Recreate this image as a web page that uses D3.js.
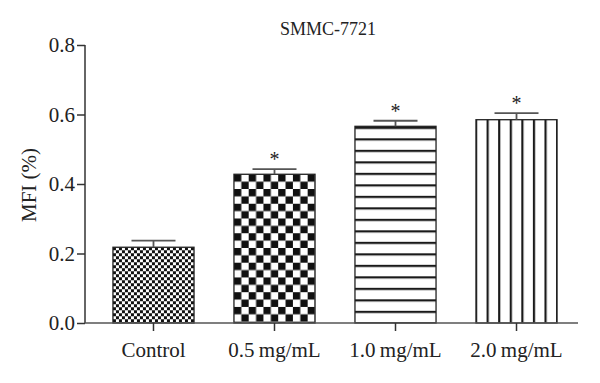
<!DOCTYPE html>
<html>
<head>
<meta charset="utf-8">
<script src="https://cdn.jsdelivr.net/npm/d3@7"></script>
<style>
  html, body { margin: 0; padding: 0; background: #fff; }
  svg { display: block; }
  text { font-family: "Liberation Serif", "DejaVu Serif", serif; fill: #222; }
</style>
</head>
<body>
<script>
const title = "SMMC-7721";
const yLabel = "MFI (%)";
const categories = ["Control", "0.5\u2009mg/mL", "1.0\u2009mg/mL", "2.0\u2009mg/mL"];
const values = [0.218, 0.428, 0.566, 0.585];
const errors = [0.019, 0.015, 0.016, 0.019];
const significant = [false, true, true, true];
const yTicks = [0.0, 0.2, 0.4, 0.6, 0.8];
const patterns = ["fineCheck", "coarseCheck", "hLines", "vLines"];

const W = 600, H = 383;
const svg = d3.select("body").append("svg").attr("width", W).attr("height", H);

const x = d3.scaleBand().domain(categories).range([85, 585]).paddingInner(0.33).paddingOuter(0.231);
const y = d3.scaleLinear().domain([0, 0.8]).range([323, 45]);
const bw = x.bandwidth();

// patterns
const defs = svg.append("defs");
const fc = defs.append("pattern").attr("id", "fineCheck").attr("patternUnits", "userSpaceOnUse")
  .attr("width", 6).attr("height", 6).attr("x", x(categories[0])).attr("y", y(values[0]));
fc.append("rect").attr("width", 6).attr("height", 6).attr("fill", "#fff");
fc.append("rect").attr("width", 3).attr("height", 3).attr("fill", "#111");
fc.append("rect").attr("x", 3).attr("y", 3).attr("width", 3).attr("height", 3).attr("fill", "#111");

const cs = bw / 11;
const cc = defs.append("pattern").attr("id", "coarseCheck").attr("patternUnits", "userSpaceOnUse")
  .attr("width", cs * 2).attr("height", cs * 2).attr("x", x(categories[1])).attr("y", y(values[1]));
cc.append("rect").attr("width", cs * 2).attr("height", cs * 2).attr("fill", "#fff");
cc.append("rect").attr("width", cs).attr("height", cs).attr("fill", "#111");
cc.append("rect").attr("x", cs).attr("y", cs).attr("width", cs).attr("height", cs).attr("fill", "#111");

const hs = 11.5;
const hl = defs.append("pattern").attr("id", "hLines").attr("patternUnits", "userSpaceOnUse")
  .attr("width", 10).attr("height", hs).attr("x", 0).attr("y", y(values[2]) + 0.5);
hl.append("rect").attr("width", 10).attr("height", hs).attr("fill", "#fff");
hl.append("rect").attr("y", 0).attr("width", 10).attr("height", 2.2).attr("fill", "#1a1a1a");

const vs = bw / 7;
const vl = defs.append("pattern").attr("id", "vLines").attr("patternUnits", "userSpaceOnUse")
  .attr("width", vs).attr("height", 10).attr("x", x(categories[3]) - 1).attr("y", 0);
vl.append("rect").attr("width", vs).attr("height", 10).attr("fill", "#fff");
vl.append("rect").attr("x", 0).attr("width", 2.2).attr("height", 10).attr("fill", "#1a1a1a");

// title
svg.append("text").attr("x", 328).attr("y", 35).attr("text-anchor", "middle")
  .attr("font-size", 18).text(title);

// y-axis title
svg.append("text").attr("transform", "translate(36,185) rotate(-90)")
  .attr("text-anchor", "middle").attr("font-size", 21).text(yLabel);

// bars
const g = svg.append("g");
g.selectAll("rect.bar").data(values).join("rect").attr("class", "bar")
  .attr("x", (d, i) => x(categories[i]))
  .attr("y", d => y(d))
  .attr("width", bw)
  .attr("height", d => y(0) - y(d))
  .attr("fill", (d, i) => `url(#${patterns[i]})`)
  .attr("stroke", "#222").attr("stroke-width", 1.3);

// error bars
const capW = 44;
g.selectAll("line.err").data(values).join("line").attr("class", "err")
  .attr("x1", (d, i) => x(categories[i]) + bw / 2)
  .attr("x2", (d, i) => x(categories[i]) + bw / 2)
  .attr("y1", d => y(d))
  .attr("y2", (d, i) => y(d + errors[i]))
  .attr("stroke", "#555").attr("stroke-width", 1.8);
g.selectAll("line.cap").data(values).join("line").attr("class", "cap")
  .attr("x1", (d, i) => x(categories[i]) + bw / 2 - capW / 2)
  .attr("x2", (d, i) => x(categories[i]) + bw / 2 + capW / 2)
  .attr("y1", (d, i) => y(d + errors[i]))
  .attr("y2", (d, i) => y(d + errors[i]))
  .attr("stroke", "#555").attr("stroke-width", 1.8);

// significance stars
g.selectAll("text.star").data(values.map((v, i) => ({ v, i })).filter(d => significant[d.i]))
  .join("text").attr("class", "star")
  .attr("x", d => x(categories[d.i]) + bw / 2)
  .attr("y", d => y(d.v + errors[d.i]) - 3)
  .attr("text-anchor", "middle").attr("font-size", 20).text("*");

// y axis
const yAxis = svg.append("g").attr("transform", "translate(85,0)")
  .call(d3.axisLeft(y).tickValues(yTicks).tickFormat(d3.format(".1f")).tickSize(8).tickPadding(2));
yAxis.select(".domain").attr("stroke", "#333").attr("stroke-width", 1.5).attr("d", `M0,${y(0)}V${y(0.8)}`);
yAxis.selectAll(".tick line").attr("stroke", "#333").attr("stroke-width", 1.5);
yAxis.selectAll(".tick text").attr("font-size", 21).attr("fill", "#222")
  .attr("font-family", "Liberation Serif, DejaVu Serif, serif");

// x axis
const xAxis = svg.append("g").attr("transform", `translate(0,${y(0)})`)
  .call(d3.axisBottom(x).tickSize(8).tickPadding(11));
xAxis.select(".domain").attr("stroke", "#555").attr("stroke-width", 1.6).attr("d", "M85,0H578");
xAxis.selectAll(".tick line").attr("stroke", "#333").attr("stroke-width", 1.5);
xAxis.selectAll(".tick text").attr("font-size", 21).attr("fill", "#222")
  .attr("font-family", "Liberation Serif, DejaVu Serif, serif");
</script>
</body>
</html>
